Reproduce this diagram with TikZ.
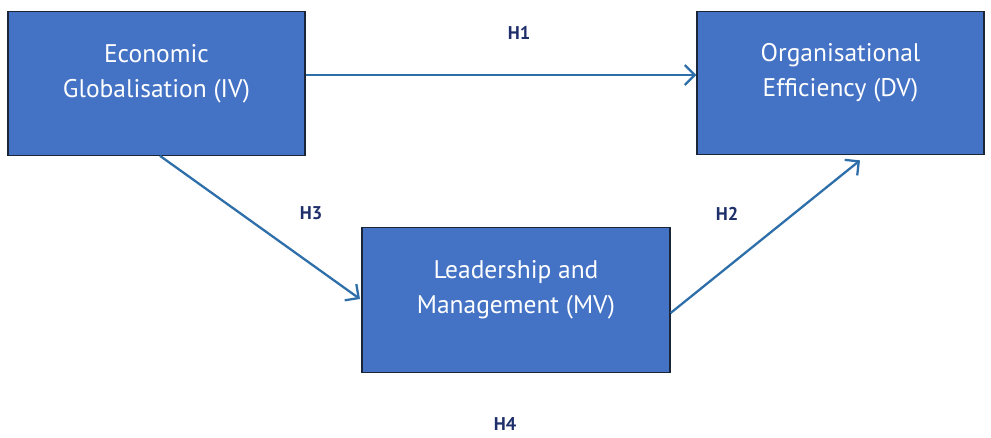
\documentclass[tikz,border=0pt]{standalone}
\usepackage{fontspec}
\setmainfont{PT Sans}
\usepackage{tikz}
\usetikzlibrary{arrows.meta,positioning}
\definecolor{BoxBlue}{HTML}{4472C4}
\definecolor{BoxEdge}{HTML}{1B2538}
\definecolor{Link}{HTML}{2E6FAA}
\definecolor{HypNavy}{HTML}{1F2F6B}
\tikzset{
  varbox/.style={draw=BoxEdge, line width=0.7pt, fill=BoxBlue, minimum height=2.87cm},
  vartext/.style={text=white, align=center, font=\fontsize{14.5}{20}\selectfont},
  hyp/.style={text=HypNavy, font=\bfseries\fontsize{10.5}{12}\selectfont},
  link/.style={-{Straight Barb[length=2mm, width=4mm]}, line width=1.3pt, draw=Link}
}
\begin{document}
\begin{tikzpicture}
  \useasboundingbox (0,0) rectangle (19.82,-8.76);

  % the three variables
  \node[varbox, minimum width=5.94cm] (glob) at (3.13,-1.67) {};
  \node[vartext] (globtxt) at ([yshift=0.19cm]glob.center) {Economic\\Globalisation (IV)};

  \node[varbox, minimum width=5.74cm] (eff) at (16.81,-1.66) {};
  \node[vartext] (efftxt) at ([yshift=0.21cm]eff.center) {Organisational\\Efficiency (DV)};

  \node[varbox, minimum width=6.16cm, minimum height=2.9cm] (lead) at (10.32,-6.0) {};
  \node[vartext] (leadtxt) at ([yshift=0.2cm]lead.center) {Leadership and\\Management (MV)};

  % hypotheses
  \node[hyp] (h1) at (10.38,-0.66) {H1};
  \node[hyp] (h3) at (6.22,-4.26) {H3};
  \node[hyp] (h2) at (14.54,-4.28) {H2};
  \node[hyp, anchor=south] (h4) at (10.1,-8.74) {H4};

  \draw[link] ([yshift=0.17cm]glob.east) -- ([yshift=0.16cm]eff.west);
  \draw[link, shorten >=1pt] ([xshift=0.07cm]glob.south) -- (lead.west);
  \draw[link] ([yshift=-0.26cm]lead.east) -- ([xshift=0.39cm, yshift=-0.1cm]eff.south);
\end{tikzpicture}
\end{document}
